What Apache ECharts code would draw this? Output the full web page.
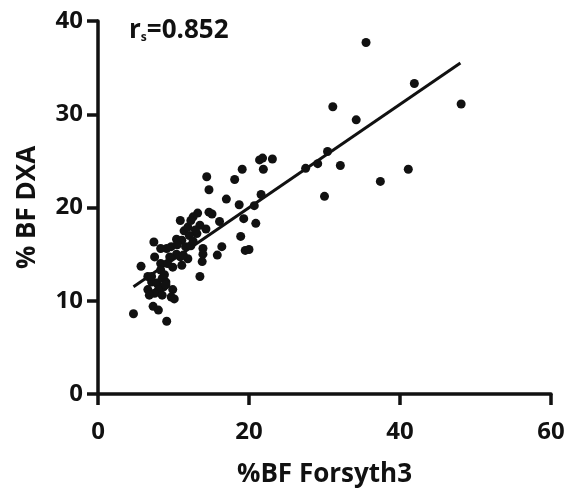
<!DOCTYPE html>
<html>
<head>
<meta charset="utf-8">
<script src="https://cdn.jsdelivr.net/npm/echarts@6/dist/echarts.min.js"></script>
<style>
  html, body { margin: 0; padding: 0; background: #fff; }
  #chart { width: 568px; height: 495px; }
</style>
</head>
<body>
<div id="chart"></div>
<script>
// %BF Forsyth3 (x) vs %BF DXA (y)
const forsythX = [
  35.5, 41.9, 48.1, 31.1, 34.2, 30.4, 29.1, 27.5, 32.1, 41.1, 37.4, 30.0,
  23.1, 21.4, 21.8, 21.9, 19.1, 18.1, 14.4, 14.7, 17.0, 21.6, 20.7, 18.7,
  20.9, 19.3, 18.9, 19.5, 20.0, 16.4, 15.8, 16.1, 14.7, 15.1, 13.2, 12.6,
  14.3, 13.5, 13.1, 13.9, 13.9, 13.8, 13.5, 10.9, 11.4, 11.9, 10.4, 11.1,
  12.1, 11.6, 12.3, 10.4, 11.9, 11.1, 9.9, 9.5, 9.1, 8.3, 7.4, 7.5,
  8.3, 5.7, 6.6, 7.1, 6.6, 7.8, 8.5, 8.7, 9.0, 8.0, 7.5, 8.5,
  9.9, 9.7, 10.1, 7.3, 8.0, 4.7, 9.1, 9.2, 10.9, 7.1, 8.3, 9.7,
  12.9, 12.3, 9.0, 6.8, 10.5, 12.6, 11.3, 8.8
];
const dxaY = [
  37.7, 33.3, 31.1, 30.8, 29.4, 26.0, 24.7, 24.2, 24.5, 24.1, 22.8, 21.2,
  25.2, 25.1, 25.3, 24.1, 24.1, 23.0, 23.3, 21.9, 20.9, 21.4, 20.2, 20.3,
  18.3, 18.8, 16.9, 15.4, 15.5, 15.8, 14.9, 18.5, 19.5, 19.3, 19.4, 19.0,
  17.7, 18.1, 17.2, 15.6, 15.0, 14.2, 12.6, 18.6, 17.5, 17.9, 16.6, 16.5,
  17.0, 15.8, 15.9, 15.0, 14.5, 13.8, 13.6, 14.7, 15.6, 15.6, 16.3, 14.7,
  14.0, 13.7, 12.6, 12.0, 11.2, 11.9, 12.4, 11.5, 12.0, 11.2, 10.8, 10.6,
  11.2, 10.4, 10.2, 9.4, 9.0, 8.6, 7.8, 14.0, 14.7, 12.6, 13.3, 15.8,
  17.6, 18.6, 11.7, 10.6, 16.0, 16.4, 14.9, 12.8
];
// regression line drawn in the figure
const fitSlope = 0.554;
const fitIntercept = 8.9;
const fitRange = [4.7, 48.0];
const xTicks = [0, 20, 40, 60];
const yTicks = [0, 10, 20, 30, 40];
const rsText = '0.852';

const points = forsythX.map((x, i) => [x, dxaY[i]]);
const fitLine = fitRange.map(x => [x, fitSlope * x + fitIntercept]);

const font = '"Open Sans", "Noto Sans", sans-serif';
const axisCommon = {
  axisLine: { show: true, lineStyle: { color: '#111', width: 3.5 } },
  axisTick: { show: true, length: 11, lineStyle: { color: '#111', width: 3.5 } },
  splitLine: { show: false },
  axisLabel: { color: '#111', fontSize: 24, fontWeight: 'bold', fontFamily: font },
  nameTextStyle: { color: '#111', fontSize: 26, fontWeight: 'bold', fontFamily: font }
};

const chart = echarts.init(document.getElementById('chart'));
chart.setOption({
  animation: false,
  backgroundColor: '#fff',
  grid: { left: 98, right: 17, top: 21, bottom: 101, containLabel: false, outerBoundsMode: 'none' },
  xAxis: Object.assign({}, axisCommon, {
    type: 'value',
    min: xTicks[0], max: xTicks[xTicks.length - 1], interval: 20,
    name: '%BF Forsyth3', nameLocation: 'middle', nameGap: 68,
    axisLabel: Object.assign({}, axisCommon.axisLabel, { margin: 26 })
  }),
  yAxis: Object.assign({}, axisCommon, {
    type: 'value',
    min: yTicks[0], max: yTicks[yTicks.length - 1], interval: 10,
    name: '% BF DXA', nameLocation: 'middle', nameGap: 57, nameRotate: 90,
    axisLabel: Object.assign({}, axisCommon.axisLabel, { margin: 15 })
  }),
  graphic: [{
    type: 'text',
    left: 129, top: 18,
    style: {
      text: '{a|r}{b|s}{a|=' + rsText + '}',
      rich: {
        a: { fontSize: 26, fontWeight: 'bold', fontFamily: font, fill: '#111', verticalAlign: 'bottom', lineHeight: 32 },
        b: { fontSize: 12, fontWeight: 'bold', fontFamily: font, fill: '#111', verticalAlign: 'bottom', lineHeight: 28 }
      }
    }
  }],
  series: [
    {
      type: 'scatter',
      data: points,
      symbolSize: 9,
      itemStyle: { color: '#111', opacity: 1 },
      z: 3
    },
    {
      type: 'line',
      data: fitLine,
      symbol: 'none',
      lineStyle: { color: '#111', width: 3 },
      z: 2
    }
  ]
});
</script>
</body>
</html>
